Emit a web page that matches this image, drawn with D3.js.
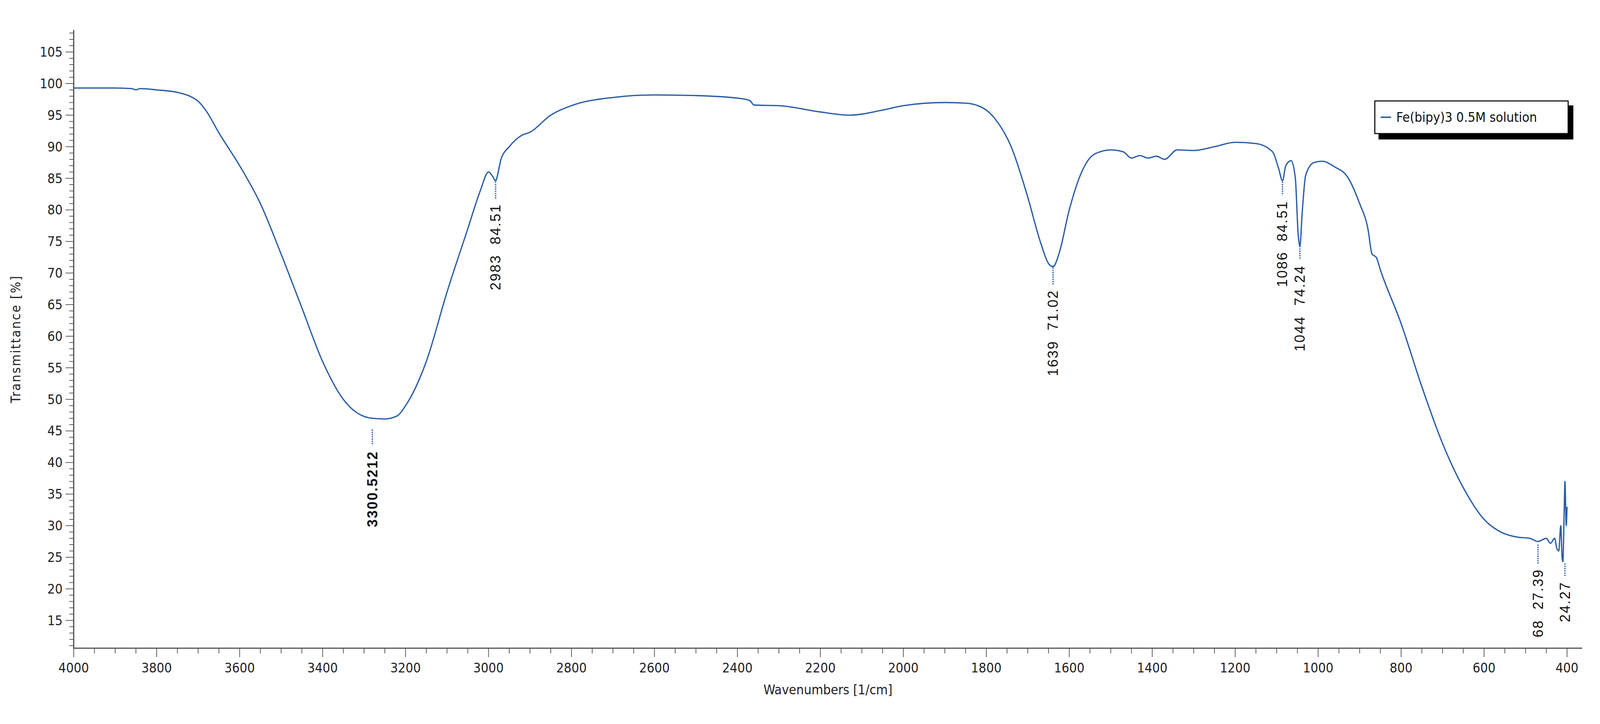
<!DOCTYPE html>
<html><head><meta charset="utf-8">
<script src="https://cdn.jsdelivr.net/npm/d3@7"></script>
<style>html,body{margin:0;padding:0;background:#fff;width:100%;height:100%;overflow:hidden}svg{display:block}</style></head>
<body><svg id="c" width="100%" height="100%" viewBox="0 0 4320 1854" preserveAspectRatio="xMidYMid meet"></svg>
<script>
const wavenumbers=[4000,3900,3860,3850,3840,3800,3750,3720,3700,3680,3650,3600,3550,3500,3450,3400,3350,3320,3300,3280,3250,3220,3200,3150,3100,3050,3020,3000,2990,2983,2975,2970,2950,2920,2900,2850,2800,2700,2600,2500,2400,2370,2360,2300,2200,2130,2050,2000,1900,1850,1820,1800,1780,1740,1700,1670,1650,1639,1625,1600,1570,1540,1500,1470,1450,1430,1410,1390,1370,1340,1300,1250,1200,1150,1110,1095,1086,1078,1065,1055,1048,1044,1038,1030,1010,990,960,930,900,880,870,860,850,800,750,700,650,600,560,520,490,470,450,440,430,425,420,415,412,410,407,405,402,400];
const transmittance=[99.3,99.3,99.2,99.0,99.2,99.0,98.6,98.0,97.2,95.6,92.2,87,81,73,64.5,56,50,48,47.3,47.0,46.9,47.4,49,56,67,77,83,86,85.3,84.6,86.5,88,90,91.8,92.3,95,96.5,97.8,98.2,98.1,97.7,97.3,96.6,96.5,95.5,95.0,95.8,96.5,97.0,96.9,96.5,95.8,94.5,90,82,75,71.5,71.0,73,80,86,88.8,89.5,89.2,88.2,88.6,88.2,88.5,88.0,89.5,89.4,90.0,90.7,90.5,89.2,86.5,84.6,87.0,87.8,85,76,74.3,80,85.5,87.5,87.7,86.8,85.3,81,77,73,72.5,70.5,62,52,43,36,31,29,28.2,28,27.5,28,27.2,28,26.5,26,30,25,24.3,32,37,30,33];
const peakPositions=[3280,2983,1639,1086,1044,470,405];
const peakLabels=["3300.5212","2983  84.51","1639  71.02","1086  84.51","1044  74.24","68  27.39","24.27"];
const peakTickTop=[45.2,84.8,71.2,84.8,74.6,27.0,24.0];
const peakTickLen=[2.5,3,3,2.5,2.5,3,2];
const peakBold=[true,false,false,false,false,false,false];
const yTicks=[15,20,25,30,35,40,45,50,55,60,65,70,75,80,85,90,95,100,105];
const xTicks=[4000,3800,3600,3400,3200,3000,2800,2600,2400,2200,2000,1800,1600,1400,1200,1000,800,600,400];
const seriesName="Fe(bipy)3 0.5M solution";

const svg=d3.select("#c");
const L=199,R=4272,T=30,B=1700;
const x=d3.scaleLinear().domain([4000,400]).range([L,4231]);
const y=d3.scaleLinear().domain([10.6,108.5]).range([B,T]);
const col="#2b5ea8", font="'DejaVu Sans Condensed','DejaVu Sans',sans-serif";

svg.append("line").attr("x1",L).attr("x2",L).attr("y1",T).attr("y2",B).attr("stroke","#444").attr("stroke-width",3);
svg.append("line").attr("x1",L).attr("x2",R).attr("y1",B).attr("y2",B).attr("stroke","#444").attr("stroke-width",3);
d3.range(11,109).forEach(v=>{const maj=v%5===0;
 svg.append("line").attr("x1",L-(maj?22:12)).attr("x2",L).attr("y1",y(v)).attr("y2",y(v)).attr("stroke","#555").attr("stroke-width",2);});
d3.range(400,4001,50).forEach(v=>{const maj=v%200===0;
 svg.append("line").attr("x1",x(v)).attr("x2",x(v)).attr("y1",B).attr("y2",B+(maj?24:14)).attr("stroke","#555").attr("stroke-width",2);});
yTicks.forEach(v=>svg.append("text").attr("x",L-30).attr("y",y(v)).attr("dy","0.35em").attr("text-anchor","end")
 .attr("font-family",font).attr("font-size",36).attr("fill","#222").text(v));
xTicks.forEach(v=>svg.append("text").attr("x",x(v)).attr("y",B+66).attr("text-anchor","middle")
 .attr("font-family",font).attr("font-size",36).attr("fill","#222").text(v));
svg.append("text").attr("x",(L+R)/2).attr("y",B+125).attr("text-anchor","middle").attr("font-family",font).attr("font-size",36).attr("fill","#222").text("Wavenumbers [1/cm]");
svg.append("text").attr("transform",`translate(55,${(T+B)/2}) rotate(-90)`).attr("text-anchor","middle").attr("font-family",font).attr("font-size",36).attr("letter-spacing",3).attr("fill","#222").text("Transmittance [%]");

const pts=wavenumbers.map((w,i)=>[w,transmittance[i]]);
svg.append("path").attr("d",d3.line().x(d=>x(d[0])).y(d=>y(d[1])).curve(d3.curveMonotoneX)(pts))
 .attr("fill","none").attr("stroke",col).attr("stroke-width",3.5);

peakPositions.forEach((w,i)=>{
 const px=x(w), y0=y(peakTickTop[i]), y1=y(peakTickTop[i]-peakTickLen[i]);
 svg.append("line").attr("x1",px).attr("x2",px).attr("y1",y0).attr("y2",y1).attr("stroke",col).attr("stroke-width",4).attr("stroke-dasharray","3,3");
 svg.append("text").attr("transform",`translate(${px+13},${y1+14}) rotate(-90)`).attr("text-anchor","end")
  .attr("font-family","'Liberation Sans',Arial,sans-serif").attr("font-size",38).attr("letter-spacing",3).attr("font-weight",peakBold[i]?"bold":"normal")
  .attr("fill","#111").style("white-space","pre").text(peakLabels[i]);
});

const lg=svg.append("g").attr("transform","translate(3712,222)");
lg.append("rect").attr("x",10).attr("y",12).attr("width",526).attr("height",92).attr("fill","#000");
lg.append("rect").attr("x",0).attr("y",0).attr("width",522).attr("height",88).attr("fill","#fff").attr("stroke","#111").attr("stroke-width",3);
lg.append("line").attr("x1",16).attr("x2",44).attr("y1",44).attr("y2",44).attr("stroke",col).attr("stroke-width",4);
lg.append("text").attr("x",58).attr("y",44).attr("dy","0.35em").attr("font-family",font).attr("font-size",36).attr("fill","#111").text(seriesName);
</script></body></html>
